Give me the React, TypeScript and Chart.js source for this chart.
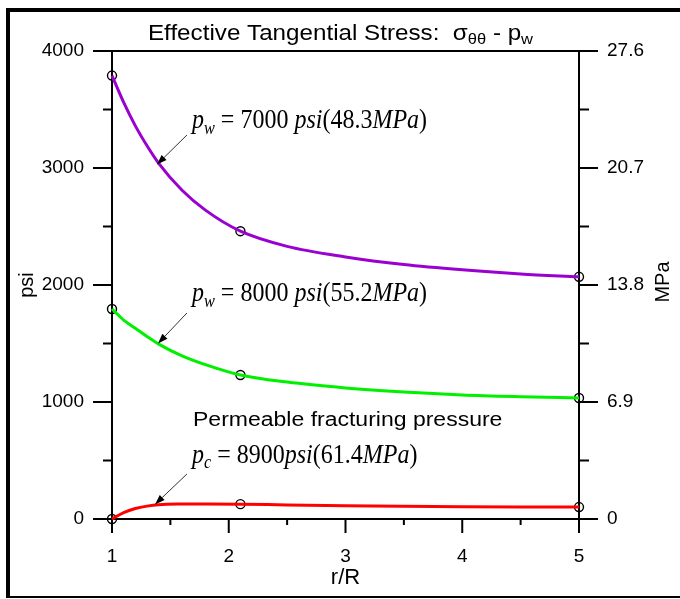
import { useEffect, useRef } from "react";
import { Chart, registerables } from "chart.js";
Chart.register(...registerables);

// r/R positions at which the curves were read
const rRatio = [1, 1.1, 1.2, 1.3, 1.4, 1.6, 1.8, 2.1, 2.5, 3, 3.5, 4, 4.5, 5];
// effective tangential stress (psi)
const pw7000 = [3790, 3560, 3360, 3190, 3040, 2810, 2640, 2460, 2330, 2240, 2175, 2130, 2095, 2070];
const pw8000 = [1795, 1700, 1630, 1560, 1495, 1395, 1320, 1231, 1170, 1120, 1085, 1060, 1045, 1034];
const pc8900 = [0, 55, 90, 110, 122, 128, 129, 127, 120, 113, 108, 104, 102, 102];

// circle markers
const markerR = [1, 2.1, 5];
const marker7000 = [3790, 2460, 2070];
const marker8000 = [1795, 1231, 1034];
const marker8900 = [0, 127, 102];

// tick labels
const psiTicks = [0, 1000, 2000, 3000, 4000];
const mpaTickLabels = ["0", "6.9", "13.8", "20.7", "27.6"];
const xMajor = [1, 2, 3, 4, 5];
const xMinor = [1.5, 2.5, 3.5, 4.5];
const psiMinor = [500, 1500, 2500, 3500];

const titleParts = [
  { t: "Effective Tangential Stress:  ", sub: false },
  { t: "σ", sub: false },
  { t: "θθ", sub: true },
  { t: " - p", sub: false },
  { t: "w", sub: true },
];

type Part = { t: string; i?: boolean; sub?: boolean };
const label7000: Part[] = [
  { t: "p", i: true }, { t: "w", i: true, sub: true }, { t: " = 7000 " }, { t: "psi", i: true },
  { t: "(48.3" }, { t: "MPa", i: true }, { t: ")" },
];
const label8000: Part[] = [
  { t: "p", i: true }, { t: "w", i: true, sub: true }, { t: " = 8000 " }, { t: "psi", i: true },
  { t: "(55.2" }, { t: "MPa", i: true }, { t: ")" },
];
const label8900: Part[] = [
  { t: "p", i: true }, { t: "c", i: true, sub: true }, { t: " = 8900" }, { t: "psi", i: true },
  { t: "(61.4" }, { t: "MPa", i: true }, { t: ")" },
];
const permeableText = "Permeable fracturing pressure";

// annotation anchors in data units [r/R, psi]
const mathLabels = [
  { parts: label7000, at: [1.685, 3342] },
  { parts: label8000, at: [1.685, 1863] },
  { parts: label8900, at: [1.685, 479] },
];
const permeableAt = [1.694, 795];
const arrows = [
  { from: [1.642, 3282], to: [1.385, 3030] },
  { from: [1.642, 1761], to: [1.394, 1500] },
  { from: [1.642, 385], to: [1.368, 124] },
];

const PURPLE = "#9a00d0";
const GREEN = "#00f000";
const RED = "#ff0000";
const SANS = "'Liberation Sans', Arial, sans-serif";
const SERIF = "'Liberation Serif', 'Times New Roman', serif";

function drawParts(ctx: CanvasRenderingContext2D, parts: Part[], x: number, y: number, size: number) {
  ctx.save();
  ctx.translate(x, y);
  ctx.scale(1, 1.15);
  let cx = 0;
  for (const p of parts) {
    const s = p.sub ? size * 0.68 : size;
    ctx.font = `${p.i ? "italic " : ""}${s}px ${SERIF}`;
    ctx.fillText(p.t, cx, p.sub ? size * 0.2 : 0);
    cx += ctx.measureText(p.t).width;
  }
  ctx.restore();
}

const decorPlugin = {
  id: "decor",
  beforeDatasetsDraw(chart: any) {
    const ctx: CanvasRenderingContext2D = chart.ctx;
    const { left, right, top, bottom } = chart.chartArea;
    const xs = chart.scales.x;
    const ys = chart.scales.y;
    ctx.save();
    ctx.fillStyle = "#000";
    // outer frame
    ctx.fillRect(6, 8, 674, 4);
    ctx.fillRect(6, 8, 4, 590);
    ctx.fillRect(6, 596, 674, 2);
    // plot box
    ctx.strokeStyle = "#000";
    ctx.lineWidth = 2;
    ctx.strokeRect(left, top, right - left, bottom - top);
    ctx.beginPath();
    for (const v of psiTicks) {
      const py = ys.getPixelForValue(v);
      ctx.moveTo(left - 19, py); ctx.lineTo(left, py);
      ctx.moveTo(right, py); ctx.lineTo(right + 19, py);
    }
    for (const v of psiMinor) {
      const py = ys.getPixelForValue(v);
      ctx.moveTo(left - 9, py); ctx.lineTo(left, py);
      ctx.moveTo(right, py); ctx.lineTo(right + 10, py);
    }
    for (const v of xMajor) {
      const px = xs.getPixelForValue(v);
      ctx.moveTo(px, bottom); ctx.lineTo(px, bottom + 14);
    }
    for (const v of xMinor) {
      const px = xs.getPixelForValue(v);
      ctx.moveTo(px, bottom); ctx.lineTo(px, bottom + 6);
    }
    ctx.stroke();
    ctx.restore();
  },
  afterDraw(chart: any) {
    const ctx: CanvasRenderingContext2D = chart.ctx;
    const { left, right, top, bottom } = chart.chartArea;
    const xs = chart.scales.x;
    const ys = chart.scales.y;
    ctx.save();
    ctx.fillStyle = "#000";
    ctx.textBaseline = "alphabetic";
    // title with subscripts (slightly widened like the reference)
    const big = 22, small = 15, stretch = 1.1;
    let w = 0;
    for (const p of titleParts) {
      ctx.font = `${p.sub ? small : big}px ${SANS}`;
      w += ctx.measureText(p.t).width;
    }
    ctx.save();
    const tx = (left + right) / 2 - 5 - (w * stretch) / 2;
    ctx.translate(tx, 40);
    ctx.scale(stretch, 1);
    let cx = 0;
    for (const p of titleParts) {
      ctx.font = `${p.sub ? small : big}px ${SANS}`;
      ctx.fillText(p.t, cx, p.sub ? 4 : 0);
      cx += ctx.measureText(p.t).width;
    }
    ctx.restore();
    // right axis title (reads bottom to top)
    ctx.save();
    ctx.translate(663, (top + bottom) / 2 - 3);
    ctx.rotate(-Math.PI / 2);
    ctx.font = `20px ${SANS}`;
    ctx.textAlign = "center";
    ctx.textBaseline = "middle";
    ctx.fillText("MPa", 0, 0);
    ctx.restore();
    // math annotations
    for (const m of mathLabels) {
      drawParts(ctx, m.parts, xs.getPixelForValue(m.at[0]), ys.getPixelForValue(m.at[1]), 24);
    }
    ctx.save();
    ctx.translate(xs.getPixelForValue(permeableAt[0]), ys.getPixelForValue(permeableAt[1]));
    ctx.scale(1.15, 1);
    ctx.font = `20px ${SANS}`;
    ctx.fillText(permeableText, 0, 0);
    ctx.restore();
    // arrows
    ctx.strokeStyle = "#333";
    ctx.fillStyle = "#000";
    ctx.lineWidth = 1;
    for (const a of arrows) {
      const x0 = xs.getPixelForValue(a.from[0]), y0 = ys.getPixelForValue(a.from[1]);
      const x1 = xs.getPixelForValue(a.to[0]), y1 = ys.getPixelForValue(a.to[1]);
      const ang = Math.atan2(y1 - y0, x1 - x0);
      const L = 10, H = 3.5;
      const bx = x1 - L * Math.cos(ang), by = y1 - L * Math.sin(ang);
      ctx.beginPath();
      ctx.moveTo(x0, y0); ctx.lineTo(bx, by);
      ctx.stroke();
      ctx.beginPath();
      ctx.moveTo(x1, y1);
      ctx.lineTo(bx + H * Math.sin(ang), by - H * Math.cos(ang));
      ctx.lineTo(bx - H * Math.sin(ang), by + H * Math.cos(ang));
      ctx.closePath();
      ctx.fill();
    }
    ctx.restore();
  },
};

function lineSet(ys: number[], color: string) {
  return {
    data: rRatio.map((x, i) => ({ x, y: ys[i] })),
    borderColor: color,
    backgroundColor: color,
    borderWidth: 3,
    pointRadius: 0,
    showLine: true,
    cubicInterpolationMode: "monotone" as const,
    yAxisID: "y",
    clip: false,
  };
}
function markerSet(ys: number[]) {
  return {
    data: markerR.map((x, i) => ({ x, y: ys[i] })),
    showLine: false,
    pointRadius: 4.5,
    pointBorderWidth: 1.4,
    pointBorderColor: "#000",
    pointBackgroundColor: "rgba(0,0,0,0)",
    yAxisID: "y",
    clip: false,
  };
}

export default function App() {
  const ref = useRef<HTMLCanvasElement | null>(null);
  useEffect(() => {
    if (!ref.current) return;
    const tickFont = { family: SANS, size: 19 };
    const chart = new Chart(ref.current, {
      type: "scatter",
      data: {
        datasets: [
          lineSet(pw7000, PURPLE),
          lineSet(pw8000, GREEN),
          lineSet(pc8900, RED),
          markerSet(marker7000),
          markerSet(marker8000),
          markerSet(marker8900),
        ] as any,
      },
      options: {
        responsive: false,
        animation: false,
        devicePixelRatio: 1,
        layout: { padding: { top: 51, left: 0, right: 0, bottom: 0 } },
        plugins: { legend: { display: false }, tooltip: { enabled: false }, title: { display: false } },
        scales: {
          x: {
            type: "linear", position: "bottom", min: 1, max: 5,
            grid: { display: false, drawTicks: false }, border: { display: false },
            ticks: { stepSize: 1, padding: 26, color: "#000", font: tickFont, maxRotation: 0, autoSkip: false, callback: (v: any) => String(v) },
            title: { display: true, text: "r/R", color: "#000", font: { family: SANS, size: 22 }, padding: { top: 0, bottom: 8 } },
            afterFit: (s: any) => { s.height = 80; },
          },
          y: {
            type: "linear", position: "left", min: 0, max: 4000,
            grid: { display: false, drawTicks: false }, border: { display: false },
            ticks: { stepSize: 1000, padding: 28, color: "#000", font: tickFont, callback: (v: any) => String(v) },
            title: { display: true, text: "psi", color: "#000", font: { family: SANS, size: 20 }, padding: { top: 15, bottom: 0 } },
            afterFit: (s: any) => { s.width = 112; },
          },
          y1: {
            type: "linear", position: "right", min: 0, max: 4000,
            grid: { display: false, drawTicks: false }, border: { display: false },
            ticks: {
              stepSize: 1000, padding: 28, color: "#000", font: tickFont,
              callback: (v: any) => mpaTickLabels[psiTicks.indexOf(Number(v))] ?? "",
            },
            afterFit: (s: any) => { s.width = 101; },
          },
        },
      } as any,
      plugins: [decorPlugin],
    });
    return () => chart.destroy();
  }, []);
  return (
    <div style={{ position: "fixed", left: 0, top: 0, width: 680, height: 599, background: "#fff" }}>
      <canvas ref={ref} width={680} height={599} />
    </div>
  );
}
